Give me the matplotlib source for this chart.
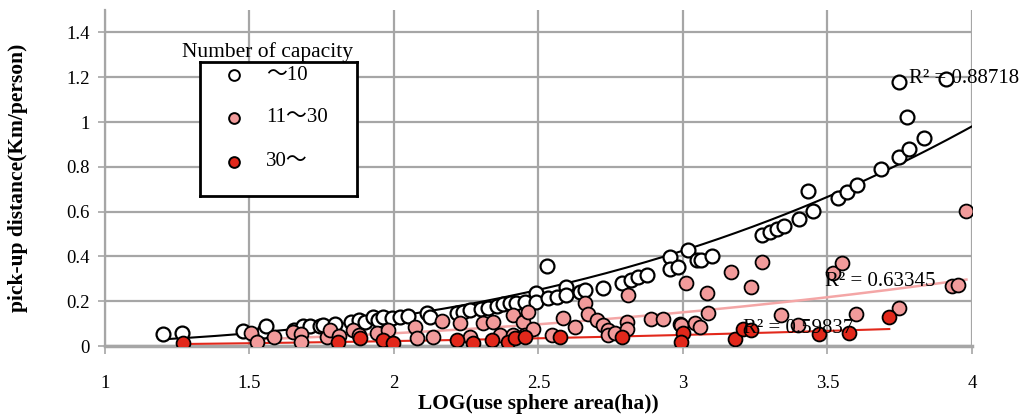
import numpy as np
import matplotlib
matplotlib.use("Agg")
import matplotlib.pyplot as plt

plt.rcParams['font.family'] = ['Liberation Serif', 'Noto Sans CJK JP']

# ~10 (open circles)
x_small = [1.20, 1.265, 1.476, 1.55, 1.557, 1.654, 1.686, 1.709, 1.744, 1.755,
           1.796, 1.853, 1.88, 1.90, 1.928, 1.946, 1.963, 1.992, 2.02, 2.05,
           2.113, 2.125, 2.217, 2.24, 2.263, 2.30, 2.326, 2.355, 2.378, 2.40,
           2.424, 2.453, 2.493, 2.493, 2.534, 2.528, 2.563, 2.597, 2.597, 2.644,
           2.661, 2.724, 2.788, 2.822, 2.845, 2.874, 2.955, 2.955, 2.984, 3.018,
           3.047, 3.064, 3.099, 3.272, 3.301, 3.324, 3.349, 3.402, 3.434, 3.451,
           3.535, 3.568, 3.601, 3.687, 3.746, 3.781, 3.777, 3.835, 3.749, 3.912]
y_small = [0.052, 0.057, 0.069, 0.069, 0.089, 0.072, 0.089, 0.089, 0.089, 0.094,
           0.100, 0.109, 0.116, 0.109, 0.131, 0.116, 0.131, 0.124, 0.131, 0.134,
           0.146, 0.131, 0.149, 0.153, 0.161, 0.164, 0.168, 0.179, 0.186, 0.190,
           0.191, 0.198, 0.236, 0.198, 0.213, 0.359, 0.220, 0.265, 0.228, 0.243,
           0.250, 0.258, 0.283, 0.295, 0.307, 0.318, 0.399, 0.343, 0.355, 0.429,
           0.385, 0.385, 0.403, 0.494, 0.511, 0.522, 0.534, 0.567, 0.690, 0.603,
           0.660, 0.686, 0.717, 0.790, 0.842, 0.880, 1.022, 0.930, 1.178, 1.192]

# 11~30 (pink)
x_mid = [1.507, 1.525, 1.586, 1.65, 1.68, 1.68, 1.767, 1.78, 1.81, 1.86,
         1.88, 1.94, 1.98, 2.073, 2.08, 2.136, 2.165, 2.228, 2.263, 2.309,
         2.344, 2.367, 2.413, 2.413, 2.447, 2.453, 2.465, 2.482, 2.546, 2.586,
         2.626, 2.661, 2.672, 2.701, 2.724, 2.742, 2.742, 2.765, 2.805, 2.805,
         2.811, 2.891, 2.932, 2.99, 2.995, 3.012, 3.042, 3.059, 3.082, 3.088,
         3.165, 3.237, 3.272, 3.341, 3.399, 3.52, 3.551, 3.598, 3.749, 3.932,
         3.953, 3.981]
y_mid = [0.060, 0.019, 0.042, 0.064, 0.052, 0.019, 0.042, 0.072, 0.045, 0.072,
         0.049, 0.057, 0.072, 0.086, 0.034, 0.042, 0.112, 0.101, 0.042, 0.101,
         0.106, 0.049, 0.139, 0.049, 0.109, 0.049, 0.153, 0.074, 0.049, 0.124,
         0.086, 0.191, 0.143, 0.116, 0.094, 0.072, 0.049, 0.057, 0.109, 0.074,
         0.228, 0.119, 0.119, 0.098, 0.094, 0.280, 0.101, 0.084, 0.238, 0.146,
         0.332, 0.262, 0.377, 0.139, 0.094, 0.325, 0.370, 0.143, 0.168, 0.268,
         0.273, 0.604]

# 30~ (red)
x_large = [1.271, 1.807, 1.882, 1.963, 1.998, 2.217, 2.274, 2.338, 2.396, 2.419,
           2.453, 2.574, 2.788, 3.0, 2.995, 3.18, 3.209, 3.237, 3.472, 3.576,
           3.714]
y_large = [0.012, 0.019, 0.034, 0.027, 0.012, 0.027, 0.012, 0.027, 0.019, 0.034,
           0.039, 0.039, 0.039, 0.057, 0.019, 0.030, 0.074, 0.072, 0.054, 0.057,
           0.128]

labels = ['～10', '11～30', '30～']
r2_labels = ['R² = 0.88718', 'R² = 0.63345', 'R² = 0.59837']

# power trendlines y = a * x^b, coefficients
trend_a = [0.0176, 0.01077, 0.0055]
trend_b = [2.9, 2.4, 2.0]

pink = '#F29B9B'
red = '#E2281B'

fig = plt.figure(figsize=(10.22, 4.19), dpi=100)
ax = fig.add_axes([0.1027, 0.1742, 0.8483, 0.8018])

grid_c = '#A6A6A6'
ax.set_xlim(1, 4)
ax.set_ylim(0, 1.5)
ax.set_xticks([1, 1.5, 2, 2.5, 3, 3.5, 4])
ax.set_xticklabels(['1', '1.5', '2', '2.5', '3', '3.5', '4'])
ax.set_yticks([0, 0.2, 0.4, 0.6, 0.8, 1.0, 1.2, 1.4])
ax.set_yticklabels(['0', '0.2', '0.4', '0.6', '0.8', '1', '1.2', '1.4'])
ax.grid(True, color=grid_c, linewidth=1.6)
ax.set_axisbelow(True)
for s in ['top', 'right']:
    ax.spines[s].set_visible(False)
ax.spines['left'].set_color(grid_c)
ax.spines['left'].set_linewidth(1.6)
ax.spines['bottom'].set_color(grid_c)
ax.spines['bottom'].set_linewidth(2.5)
ax.tick_params(axis='y', direction='inout', length=10, color=grid_c, width=1.2,
               labelsize=13.5, pad=6)
ax.tick_params(axis='x', direction='out', length=6, color=grid_c, width=1.2,
               labelsize=13.5, pad=15)

ax.scatter(x_small, y_small, s=100, facecolor='white', edgecolor='black',
           linewidth=1.6, zorder=4)
ax.scatter(x_mid, y_mid, s=100, facecolor=pink, edgecolor='black',
           linewidth=1.3, zorder=4)
ax.scatter(x_large, y_large, s=100, facecolor=red, edgecolor='black',
           linewidth=1.3, zorder=4)

xx = np.linspace(min(x_small), 4.0, 200)
ax.plot(xx, trend_a[0] * xx ** trend_b[0], color='black', linewidth=1.5, zorder=3)
xx = np.linspace(min(x_mid), max(x_mid), 200)
ax.plot(xx, trend_a[1] * xx ** trend_b[1], color='#F4A6A6', linewidth=1.8, zorder=3)
xx = np.linspace(min(x_large), max(x_large), 200)
ax.plot(xx, trend_a[2] * xx ** trend_b[2], color=red, linewidth=1.5, zorder=3)

ax.text(3.782, 1.195, r2_labels[0], fontsize=15, va='center', ha='left', zorder=5)
ax.text(3.49, 0.29, r2_labels[1], fontsize=15, va='center', ha='left', zorder=5)
ax.text(3.208, 0.078, r2_labels[2], fontsize=15, va='center', ha='left', zorder=5)

ax.set_xlabel('LOG(use sphere area(ha))', fontsize=15.5, fontweight='bold', labelpad=1)
ax.set_ylabel('pick-up distance(Km/person)', fontsize=15.5, fontweight='bold')
ax.yaxis.set_label_coords(-0.089, 0.5)

# legend box drawn as a small axes in pixel units
lw_, lh_ = 157, 134
lax = fig.add_axes([200 / 1022, 1 - 196 / 419, lw_ / 1022, lh_ / 419])
lax.set_xlim(0, lw_)
lax.set_ylim(lh_, 0)
lax.set_xticks([])
lax.set_yticks([])
for s in lax.spines.values():
    s.set_color('black')
    s.set_linewidth(2)
leg_y = [13, 56, 100]
leg_fc = ['white', pink, red]
for yy, fc, lab in zip(leg_y, leg_fc, labels):
    lax.scatter([34], [yy], s=60, facecolor=fc, edgecolor='black', linewidth=1.4)
    lax.text(66, yy, lab, fontsize=15, va='center', ha='left')
fig.text(267 / 1022, 1 - 52 / 419, 'Number of capacity', fontsize=15.5,
         ha='center', va='center', zorder=7)

fig.savefig('out.png', dpi=100)
